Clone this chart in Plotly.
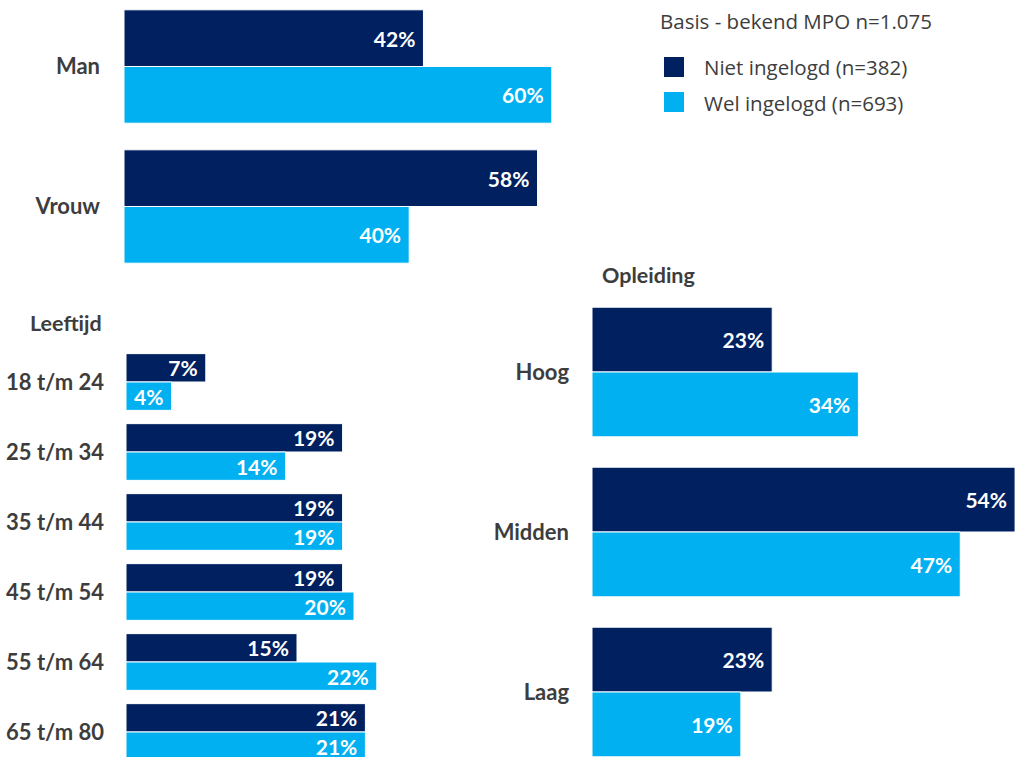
import plotly.graph_objects as go

# ---------------- data ----------------
series_names = ["Niet ingelogd (n=382)", "Wel ingelogd (n=693)"]
basis_text = "Basis - bekend MPO n=1.075"

gender_cats = ["Man", "Vrouw"]
gender_niet = [42, 58]
gender_wel = [60, 40]

age_title = "Leeftijd"
age_cats = ["18 t/m 24", "25 t/m 34", "35 t/m 44", "45 t/m 54", "55 t/m 64", "65 t/m 80"]
age_niet = [7, 19, 19, 19, 15, 21]
age_wel = [4, 14, 19, 20, 22, 21]

edu_title = "Opleiding"
edu_cats = ["Hoog", "Midden", "Laag"]
edu_niet = [23, 54, 23]
edu_wel = [34, 47, 19]

# ---------------- style ----------------
W, H = 1015, 757
DARK = "#002060"
LIGHT = "#00B0F0"
TXT = "#3d3d3d"
FONT = "Lato"
BAR_FONT = 21
CAT_FONT = 22
LEG_FONT = 20.5


def xdom(left_px, right_px):
    return [left_px / W, right_px / W]


def ydom(top_px, bottom_px):
    return [1 - bottom_px / H, 1 - top_px / H]


def yrng(top_px, bottom_px, first_center_px, step_px):
    # reversed category range (first category at top)
    return [(bottom_px - first_center_px) / step_px, (top_px - first_center_px) / step_px]


fig = go.Figure()

panels = [
    ("x", "y", gender_cats, gender_niet, gender_wel),
    ("x2", "y2", age_cats, age_niet, age_wel),
    ("x3", "y3", edu_cats, edu_niet, edu_wel),
]

for xa, ya, cats, niet, wel in panels:
    for vals, col, name in [(niet, DARK, series_names[0]), (wel, LIGHT, series_names[1])]:
        fig.add_trace(go.Bar(
            x=vals, y=cats, orientation="h", name=name,
            xaxis=xa, yaxis=ya,
            marker=dict(color=col, line=dict(color="white", width=1)),
            texttemplate="%{x}%\u00a0", textposition="inside",
            insidetextanchor="end", constraintext="none",
            textfont=dict(family=FONT, size=BAR_FONT, color="white", weight="bold"),
            showlegend=False, hoverinfo="skip",
        ))

hidden_x = dict(visible=False, showgrid=False, zeroline=False, fixedrange=True)
cat_y = dict(type="category", showgrid=False, zeroline=False, showline=False,
             ticks="", fixedrange=True,
             tickfont=dict(family=FONT, size=CAT_FONT, color=TXT, weight="bold"))

fig.update_layout(
    width=W, height=H,
    margin=dict(l=0, r=0, t=0, b=0),
    paper_bgcolor="white", plot_bgcolor="white",
    barmode="group", bargap=0.19, bargroupgap=0,
    # gender panel
    xaxis=dict(**hidden_x, domain=xdom(124, 600), range=[0, (600 - 124) / 7.13]),
    yaxis=dict(**cat_y, domain=ydom(0, 285), range=yrng(0, 285, 66.5, 140),
               anchor="x", ticklabelstandoff=23),
    # age panel
    xaxis2=dict(**hidden_x, domain=xdom(126, 470), range=[0, (470 - 126) / 11.4], anchor="y2"),
    yaxis2=dict(**cat_y, domain=ydom(340, 757), range=yrng(340, 757, 382, 70),
                anchor="x2", ticklabelstandoff=21),
    # education panel
    xaxis3=dict(**hidden_x, domain=xdom(592, 1015), range=[0, (1015 - 592) / 7.835], anchor="y3"),
    yaxis3=dict(**cat_y, domain=ydom(292, 757), range=yrng(292, 757, 372, 160),
                anchor="x3", ticklabelstandoff=22),
)

annotations = [
    dict(text=f"<b>{age_title}</b>", x=28 / W, y=1 - 323 / H, xanchor="left", yanchor="middle",
         font=dict(family=FONT, size=21.5, color=TXT)),
    dict(text=f"<b>{edu_title}</b>", x=600 / W, y=1 - 275 / H, xanchor="left", yanchor="middle",
         font=dict(family=FONT, size=21.5, color=TXT)),
    dict(text=basis_text, x=658 / W, y=1 - 21 / H, xanchor="left", yanchor="middle",
         font=dict(family="Open Sans", size=LEG_FONT, color=TXT)),
    dict(text=series_names[0], x=702 / W, y=1 - 67 / H, xanchor="left", yanchor="middle",
         font=dict(family="Open Sans", size=LEG_FONT, color=TXT)),
    dict(text=series_names[1], x=702 / W, y=1 - 103 / H, xanchor="left", yanchor="middle",
         font=dict(family="Open Sans", size=LEG_FONT, color=TXT)),
]
for a in annotations:
    a.update(xref="paper", yref="paper", showarrow=False)
fig.update_layout(annotations=annotations)

shapes = []
for (top, col) in [(57, DARK), (92, LIGHT)]:
    shapes.append(dict(type="rect", xref="paper", yref="paper",
                       x0=664 / W, x1=684 / W, y0=1 - (top + 20) / H, y1=1 - top / H,
                       fillcolor=col, line=dict(width=0)))
fig.update_layout(shapes=shapes)

fig.write_html("out.html", config={"displayModeBar": False},
               post_script="document.body.style.margin='0';")
